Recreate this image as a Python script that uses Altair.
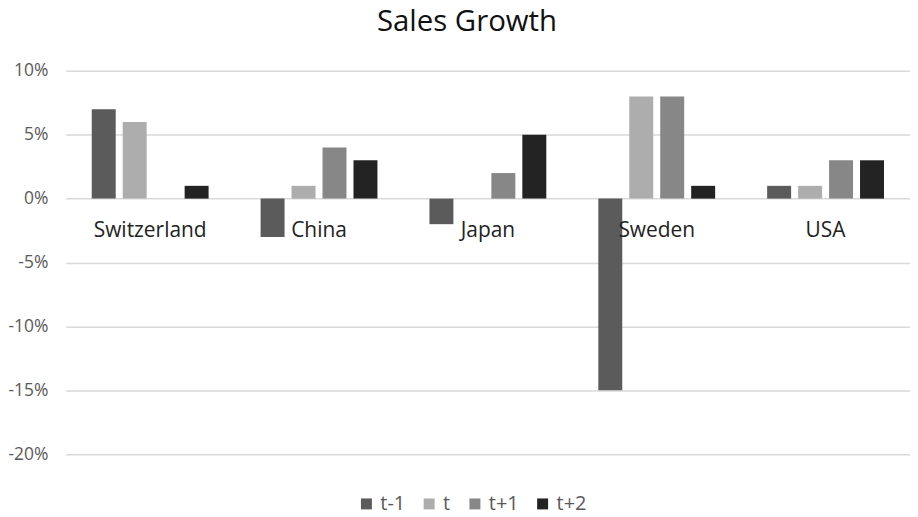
import altair as alt
import pandas as pd

countries = ["Switzerland", "China", "Japan", "Sweden", "USA"]
series = ["t-1", "t", "t+1", "t+2"]
t_minus_1 = [7, -3, -2, -15, 1]
t_now = [6, 1, 0, 8, 1]
t_plus_1 = [0, 4, 2, 8, 3]
t_plus_2 = [1, 3, 5, 1, 3]
colors = ["#5b5b5b", "#adadad", "#878787", "#232323"]
y_ticks = [-20, -15, -10, -5, 0, 5, 10]

rows = []
for s, vals in zip(series, [t_minus_1, t_now, t_plus_1, t_plus_2]):
    for c, v in zip(countries, vals):
        rows.append({"country": c, "series": s, "value": v})
df = pd.DataFrame(rows)
labels_df = pd.DataFrame({"country": countries, "zero": [0] * len(countries)})

FONT = "Open Sans"

x_enc = alt.X("country:N", sort=countries, axis=None,
              scale=alt.Scale(paddingInner=0, paddingOuter=0))
y_scale = alt.Scale(domain=[-20, 10], nice=False)

bars = alt.Chart(df).mark_bar().encode(
    x=x_enc,
    xOffset=alt.XOffset("series:N", sort=series,
                        scale=alt.Scale(paddingInner=0.226, paddingOuter=0.84)),
    y=alt.Y("value:Q", scale=y_scale,
            axis=alt.Axis(values=y_ticks, labelExpr="datum.value + '%'",
                          title=None, domain=False, ticks=False,
                          grid=True, gridColor="#d9d9d9", gridWidth=1.5,
                          labelFont=FONT, labelFontSize=17.5, labelColor="#595959",
                          labelPadding=18)),
    color=alt.Color("series:N", sort=series,
                    scale=alt.Scale(domain=series, range=colors),
                    legend=alt.Legend(title=None, orient="none", direction="horizontal",
                                      legendX=292, legendY=425,
                                      symbolType="square", symbolSize=121,
                                      symbolStrokeWidth=0,
                                      labelFont=FONT, labelFontSize=20,
                                      labelColor="#595959", labelOffset=4,
                                      columnPadding=14, padding=0)),
)

texts = alt.Chart(labels_df).mark_text(
    baseline="alphabetic", dy=39, font=FONT, fontSize=21, color="#222222"
).encode(
    x=alt.X("country:N", sort=countries, axis=None),
    y=alt.Y("zero:Q", scale=y_scale),
    text="country:N",
)

chart = alt.layer(bars, texts).properties(
    width=848,
    height=385,
    title=alt.TitleParams("Sales Growth", font=FONT, fontSize=29.5, fontWeight="normal",
                          color="#111111", anchor="middle", dx=-21, offset=2,
                          baseline="alphabetic"),
    padding={"left": 58, "top": 62, "right": 0, "bottom": 62},
    autosize=alt.AutoSizeParams(type="none"),
).configure_view(stroke=None)

chart.save("out.html", embed_options={"renderer": "svg", "actions": False})
